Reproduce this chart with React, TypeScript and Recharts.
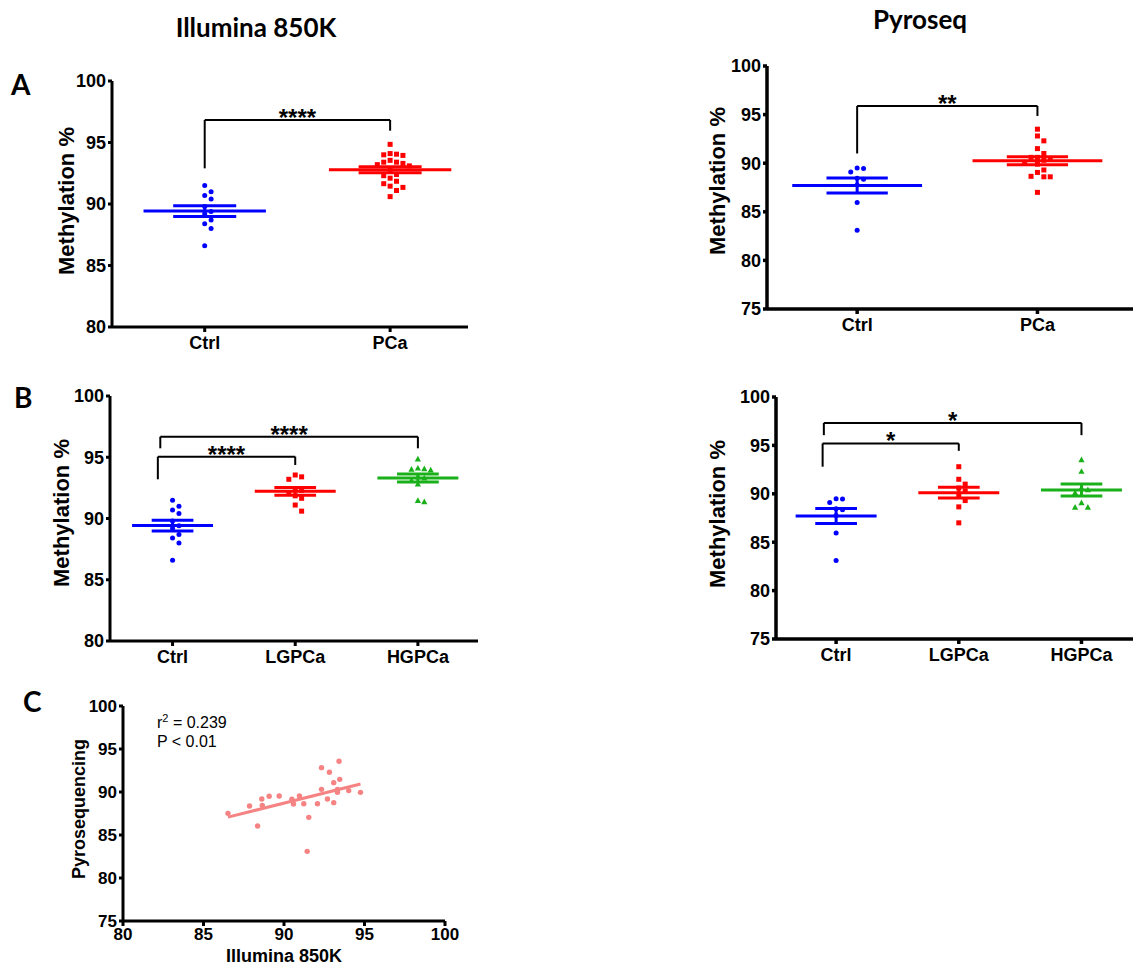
import React from 'react';
import { ScatterChart, Scatter, XAxis, YAxis, ReferenceLine } from 'recharts';

// Illumina 850K methylation (%) per sample
const ILL_CTRL = [91.5, 91.0, 90.7, 90.4, 89.8, 89.4, 89.2, 88.7, 88.4, 88.0, 86.6];
const ILL_LG = [93.55, 93.4, 93.2, 92.4, 92.3, 92.1, 91.85, 91.65, 91.1, 90.6];
const ILL_HG = [94.85, 94.1, 94.05, 94.0, 93.95, 93.4, 93.3, 93.1, 92.8, 91.45, 91.35];

// Pyrosequencing methylation (%) per sample
const PYRO_CTRL = [89.5, 89.45, 89.1, 88.45, 88.35, 87.75, 85.95, 83.1];
const PYRO_LG = [92.8, 91.5, 91.0, 90.6, 90.3, 89.9, 89.3, 88.65, 87.0];
const PYRO_HG = [93.5, 92.3, 90.6, 90.4, 90.1, 89.05, 88.6, 88.6];

// correlation panel: Illumina vs pyroseq
const CORR_ILL = [86.52, 87.86, 88.36, 88.62, 88.65, 89.08, 89.7, 90.49, 90.59, 90.96, 91.23, 91.54, 91.44,
  92.08, 92.33, 92.33, 92.7, 92.82, 93.09, 93.09, 93.32, 93.32, 93.42, 93.46, 94.02, 94.75];
const CORR_PYRO = [87.52, 88.37, 86.05, 89.19, 88.45, 89.5, 89.53, 89.15, 88.6, 89.53, 88.64, 87.05, 83.1,
  88.64, 90.31, 92.83, 89.19, 92.29, 91.09, 88.76, 90.31, 89.96, 93.57, 91.47, 90.16, 89.96];

const CATS_A = ['Ctrl', 'PCa'];
const CATS_B = ['Ctrl', 'LGPCa', 'HGPCa'];
const TICKS_ILL = [80, 85, 90, 95, 100];
const TICKS_PYRO = [75, 80, 85, 90, 95, 100];
const TICKS_CORR_X = [80, 85, 90, 95, 100];

// significance brackets: x from/to (category units), y levels, stars
const BR_ILL_A = [{ from: 1, to: 2, top: 96.83, leftEnd: 92.9, rightEnd: 95.96, label: '****' }];
const BR_PYRO_A = [{ from: 1, to: 2, top: 95.89, leftEnd: 91.0, rightEnd: 94.86, label: '**' }];
const BR_ILL_B = [
  { from: 0.9, to: 3, top: 96.68, leftEnd: 95.73, rightEnd: 95.73, label: '****' },
  { from: 0.88, to: 2, top: 95.05, leftEnd: 93.2, rightEnd: 94.37, label: '****' },
];
const BR_PYRO_B = [
  { from: 0.9, to: 3, top: 97.32, leftEnd: 96.06, rightEnd: 96.06, label: '*' },
  { from: 0.89, to: 2, top: 95.2, leftEnd: 92.8, rightEnd: 94.44, label: '*' },
];

const FONT = '"Liberation Sans", Arial, sans-serif';
const TITLE_FONT = 'Lato, "Open Sans", sans-serif';
const BLUE = '#0000ff';
const RED = '#ff0000';
const GREEN = '#19b019';
const PINK = '#f58383';

type Shape = 'circle' | 'square' | 'triangle';

function mean(v: number[]) {
  return v.reduce((s, x) => s + x, 0) / v.length;
}
function sem(v: number[]) {
  const m = mean(v);
  const sd = Math.sqrt(v.reduce((s, x) => s + (x - m) ** 2, 0) / (v.length - 1));
  return sd / Math.sqrt(v.length);
}

// simple beeswarm: spread points sideways so markers don't overlap
function swarm(values: number[], pxX: number, pxY: number, d: number) {
  const order = values.map((_, i) => i).sort((a, b) => values[b] - values[a]);
  const placed: { px: number; py: number }[] = [];
  const out = values.map(() => 0);
  order.forEach(i => {
    const py = values[i] * pxY;
    for (let k = 0; k < 60; k++) {
      const px = Math.ceil(k / 2) * (k % 2 === 1 ? 1 : -1) * d;
      if (placed.every(p => Math.hypot(p.px - px, p.py - py) >= d)) {
        placed.push({ px, py });
        out[i] = px / pxX;
        break;
      }
    }
  });
  return out;
}

function marker(shape: Shape, color: string, size = 2.5) {
  return (p: any) => {
    const { cx, cy } = p;
    if (shape === 'square') return <rect x={cx - size} y={cy - size} width={size * 2} height={size * 2} fill={color} />;
    if (shape === 'triangle')
      return <polygon points={`${cx},${cy - 3.4} ${cx - 3.1},${cy + 2.3} ${cx + 3.1},${cy + 2.3}`} fill={color} />;
    return <circle cx={cx} cy={cy} r={size} fill={color} />;
  };
}

interface Group { values: number[]; color: string; shape: Shape }
interface Bracket { from: number; to: number; top: number; leftEnd: number; rightEnd: number; label: string }

interface PanelProps {
  left: number; top: number; width: number; height: number;
  mTop: number; mRight: number; yAxisW: number; xAxisH: number;
  xDomain: [number, number]; yDomain: [number, number]; yTicks: number[];
  cats: string[]; groups: Group[]; brackets: Bracket[];
  meanHalf?: number; axisW?: number;
}

const DotPanel: React.FC<PanelProps> = ({
  left, top, width, height, mTop, mRight, yAxisW, xAxisH,
  xDomain, yDomain, yTicks, cats, groups, brackets, meanHalf = 0.33, axisW = 3,
}) => {
  const plotW = width - mRight - yAxisW;
  const plotH = height - mTop - xAxisH;
  const pxX = plotW / (xDomain[1] - xDomain[0]);
  const pxY = plotH / (yDomain[1] - yDomain[0]);
  const axis = { stroke: '#000', strokeWidth: axisW };
  const tick = { fill: '#000', fontSize: 18, fontWeight: 700, fontFamily: FONT };

  const points = groups.map((g, i) => {
    const off = swarm(g.values, pxX, pxY, 6.4);
    return g.values.map((v, j) => ({ x: i + 1 + off[j], y: v }));
  });

  const stats: React.ReactElement[] = [];
  groups.forEach((g, i) => {
    const x = i + 1;
    const m = mean(g.values);
    const e = sem(g.values);
    const seg = (k: string, x1: number, y1: number, x2: number, y2: number) => (
      <ReferenceLine key={`${i}-${k}`} segment={[{ x: x1, y: y1 }, { x: x2, y: y2 }]}
        stroke={g.color} strokeWidth={3} ifOverflow="visible" />
    );
    stats.push(seg('m', x - meanHalf, m, x + meanHalf, m));
    stats.push(seg('u', x - 0.17, m + e, x + 0.17, m + e));
    stats.push(seg('l', x - 0.17, m - e, x + 0.17, m - e));
    stats.push(seg('v', x, m - e, x, m + e));
  });

  const brk: React.ReactElement[] = [];
  brackets.forEach((b, i) => {
    const line = { stroke: '#000', strokeWidth: 2, ifOverflow: 'visible' as const };
    brk.push(<ReferenceLine key={`b${i}l`} segment={[{ x: b.from, y: b.leftEnd }, { x: b.from, y: b.top }]} {...line} />);
    brk.push(<ReferenceLine key={`b${i}r`} segment={[{ x: b.to, y: b.rightEnd }, { x: b.to, y: b.top }]} {...line} />);
    brk.push(
      <ReferenceLine key={`b${i}h`} segment={[{ x: b.from, y: b.top }, { x: b.to, y: b.top }]} {...line}
        label={{ value: b.label, position: 'top', offset: -6, fill: '#000', fontSize: 24, fontWeight: 700, fontFamily: FONT }} />
    );
  });

  return (
    <div style={{ position: 'absolute', left, top }}>
      <ScatterChart width={width} height={height} margin={{ top: mTop, right: mRight, left: 0, bottom: 0 }}>
        <XAxis type="number" dataKey="x" domain={xDomain} allowDataOverflow ticks={cats.map((_, i) => i + 1)}
          tickFormatter={(v: number) => cats[v - 1]} interval={0} height={xAxisH}
          axisLine={axis} tickLine={axis} tickSize={5} tickMargin={4} tick={tick} />
        <YAxis type="number" dataKey="y" domain={yDomain} allowDataOverflow ticks={yTicks} interval={0} width={yAxisW}
          axisLine={axis} tickLine={axis} tickSize={4} tickMargin={2} tick={tick} />
        {groups.map((g, i) => (
          <Scatter key={i} data={points[i]} shape={marker(g.shape, g.color)} isAnimationActive={false} />
        ))}
        {stats}
        {brk}
      </ScatterChart>
    </div>
  );
};

function linFit(xs: number[], ys: number[]) {
  const mx = mean(xs);
  const my = mean(ys);
  let sxy = 0;
  let sxx = 0;
  xs.forEach((x, i) => {
    sxy += (x - mx) * (ys[i] - my);
    sxx += (x - mx) ** 2;
  });
  const slope = sxy / sxx;
  return { slope, intercept: my - slope * mx };
}

const CorrPanel: React.FC = () => {
  const data = CORR_ILL.map((x, i) => ({ x, y: CORR_PYRO[i] }));
  const fit = linFit(CORR_ILL, CORR_PYRO);
  const x0 = Math.min(...CORR_ILL);
  const x1 = Math.max(...CORR_ILL);
  const axis = { stroke: '#000', strokeWidth: 3 };
  const tick = { fill: '#000', fontSize: 17, fontWeight: 700, fontFamily: FONT };
  return (
    <div style={{ position: 'absolute', left: 0, top: 690 }}>
      <ScatterChart width={460} height={275} margin={{ top: 16, right: 15, left: 0, bottom: 0 }}>
        <XAxis type="number" dataKey="x" domain={[80, 100]} ticks={TICKS_CORR_X} interval={0} height={44}
          allowDataOverflow axisLine={axis} tickLine={axis} tickSize={5} tickMargin={2} tick={tick} />
        <YAxis type="number" dataKey="y" domain={[75, 100]} ticks={TICKS_PYRO} interval={0} width={123}
          allowDataOverflow axisLine={axis} tickLine={axis} tickSize={4} tickMargin={2} tick={tick} />
        <Scatter data={data} shape={marker('circle', PINK, 2.7)} isAnimationActive={false} />
        <ReferenceLine segment={[
          { x: x0, y: fit.intercept + fit.slope * x0 },
          { x: x1, y: fit.intercept + fit.slope * x1 },
        ]} stroke={PINK} strokeWidth={3} />
      </ScatterChart>
    </div>
  );
};

const YLabel = ({ x, y, text, size = 22 }: { x: number; y: number; text: string; size?: number }) => (
  <text x={x} y={y} transform={`rotate(-90 ${x} ${y})`} textAnchor="middle" dominantBaseline="central"
    fontFamily={FONT} fontWeight={700} fontSize={size} fill="#000">{text}</text>
);

export default function App() {
  const illA: Group[] = [
    { values: ILL_CTRL, color: BLUE, shape: 'circle' },
    { values: [...ILL_LG, ...ILL_HG], color: RED, shape: 'square' },
  ];
  const pyroA: Group[] = [
    { values: PYRO_CTRL, color: BLUE, shape: 'circle' },
    { values: [...PYRO_LG, ...PYRO_HG], color: RED, shape: 'square' },
  ];
  const illB: Group[] = [
    { values: ILL_CTRL, color: BLUE, shape: 'circle' },
    { values: ILL_LG, color: RED, shape: 'square' },
    { values: ILL_HG, color: GREEN, shape: 'triangle' },
  ];
  const pyroB: Group[] = [
    { values: PYRO_CTRL, color: BLUE, shape: 'circle' },
    { values: PYRO_LG, color: RED, shape: 'square' },
    { values: PYRO_HG, color: GREEN, shape: 'triangle' },
  ];

  return (
    <div style={{ position: 'absolute', left: 0, top: 0, width: 1133, height: 965, background: '#fff', overflow: 'hidden' }}>
      <DotPanel left={0} top={60} width={480} height={300} mTop={21} mRight={12} yAxisW={112} xAxisH={33}
        xDomain={[0.5, 2.42]} yDomain={[80, 100]} yTicks={TICKS_ILL} cats={CATS_A} groups={illA} brackets={BR_ILL_A} />
      <DotPanel left={650} top={40} width={483} height={302} mTop={26} mRight={0} yAxisW={117} xAxisH={33}
        xDomain={[0.5, 2.53]} yDomain={[75, 100]} yTicks={TICKS_PYRO} cats={CATS_A} groups={pyroA} brackets={BR_PYRO_A}
        meanHalf={0.36} axisW={3.5} />
      <DotPanel left={0} top={375} width={490} height={300} mTop={21} mRight={12} yAxisW={110} xAxisH={34}
        xDomain={[0.49, 3.49]} yDomain={[80, 100]} yTicks={TICKS_ILL} cats={CATS_B} groups={illB} brackets={BR_ILL_B} />
      <DotPanel left={655} top={375} width={478} height={298} mTop={22} mRight={0} yAxisW={121} xAxisH={34}
        xDomain={[0.51, 3.42]} yDomain={[75, 100]} yTicks={TICKS_PYRO} cats={CATS_B} groups={pyroB} brackets={BR_PYRO_B}
        axisW={3.5} />
      <CorrPanel />

      <svg width={1133} height={965} style={{ position: 'absolute', left: 0, top: 0, pointerEvents: 'none' }}>
        <text x={256} y={37} textAnchor="middle" fontFamily={TITLE_FONT} fontWeight={700} fontSize={26}>Illumina 850K</text>
        <text x={920} y={29} textAnchor="middle" fontFamily={TITLE_FONT} fontWeight={700} fontSize={26}>Pyroseq</text>
        <text x={11} y={95} fontFamily={TITLE_FONT} fontWeight={700} fontSize={28}>A</text>
        <text x={14} y={408} fontFamily={TITLE_FONT} fontWeight={700} fontSize={28}>B</text>
        <text x={23} y={712} fontFamily={TITLE_FONT} fontWeight={700} fontSize={28}>C</text>

        <YLabel x={66} y={201} text="Methylation %" />
        <YLabel x={717} y={181} text="Methylation %" />
        <YLabel x={61} y={513} text="Methylation %" />
        <YLabel x={717} y={514} text="Methylation %" />
        <YLabel x={79} y={809} text="Pyrosequencing" size={18} />
        <text x={284} y={962} textAnchor="middle" fontFamily={FONT} fontWeight={700} fontSize={18}>Illumina 850K</text>

        <text x={157} y={728} fontFamily={FONT} fontSize={16}>
          r<tspan dy={-6} fontSize={11}>2</tspan><tspan dy={6}> = 0.239</tspan>
        </text>
        <text x={157} y={747} fontFamily={FONT} fontSize={16}>P &lt; 0.01</text>
      </svg>
    </div>
  );
}
